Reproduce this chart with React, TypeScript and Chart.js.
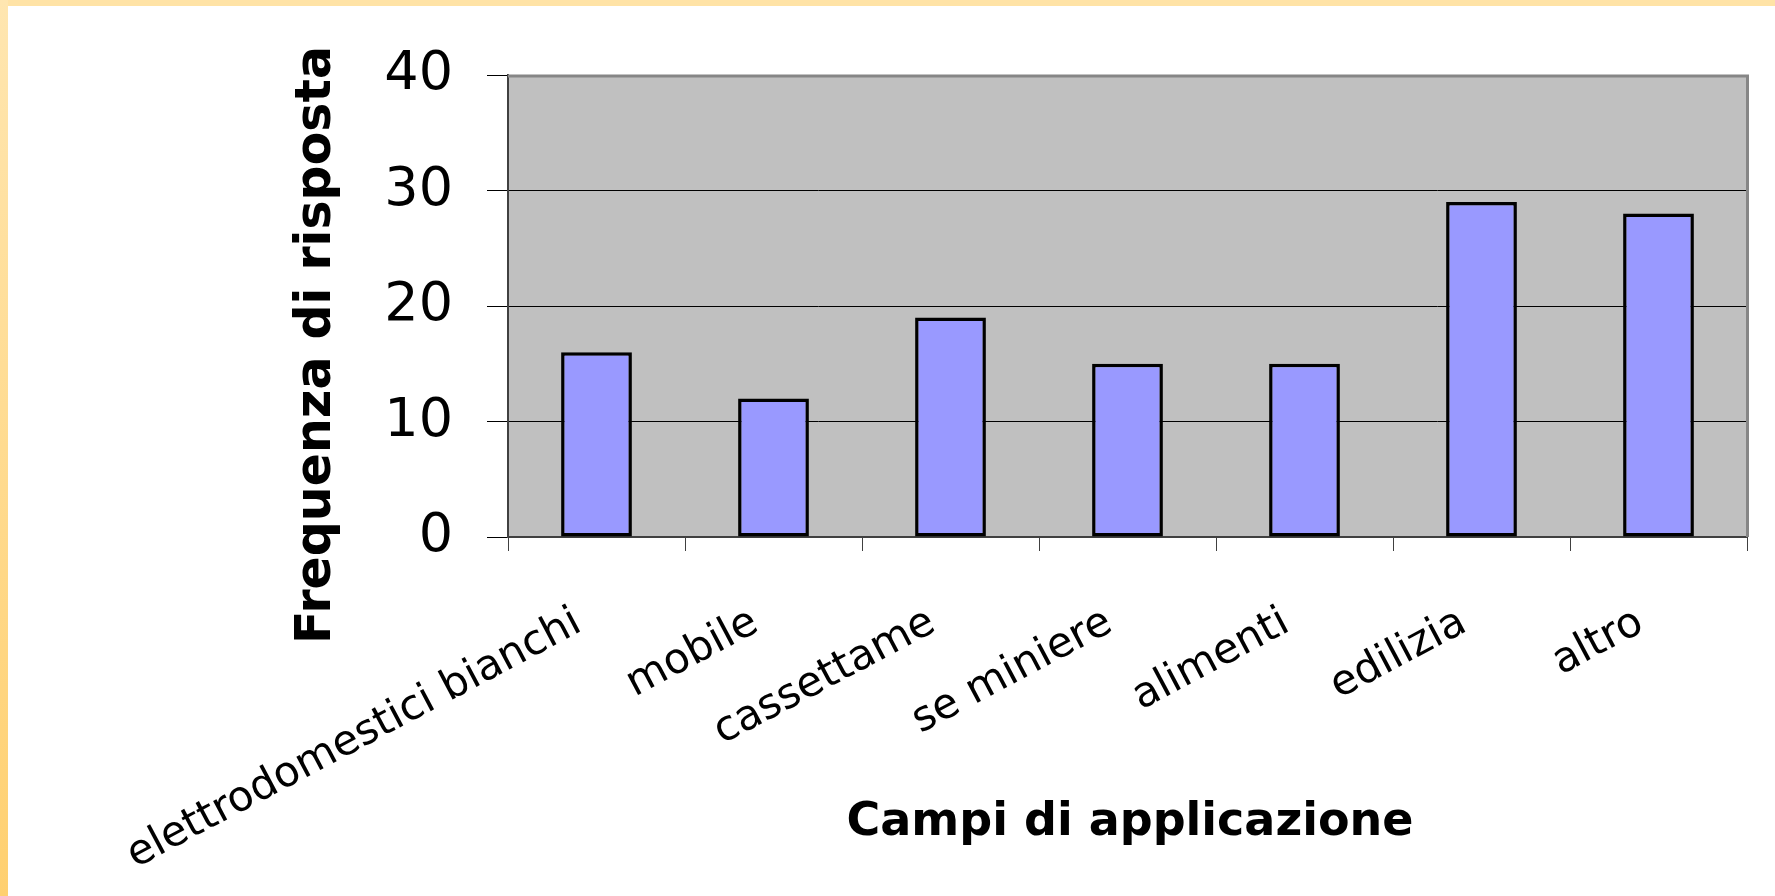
import React, { useEffect, useRef } from "react";
import { Chart, registerables } from "chart.js";

Chart.register(...registerables);

const categories = [
  "elettrodomestici bianchi",
  "mobile",
  "cassettame",
  "se miniere",
  "alimenti",
  "edilizia",
  "altro",
];
const frequencies = [16, 12, 19, 15, 15, 29, 28];
const yMin = 0;
const yMax = 40;
const yStep = 10;
const xTitle = "Campi di applicazione";
const yTitle = "Frequenza di risposta";

const FONT = '"Comic Sans MS", "DejaVu Sans", sans-serif';

export default function App() {
  const ref = useRef<HTMLCanvasElement>(null);

  useEffect(() => {
    const canvas = ref.current;
    if (!canvas) return;

    const plotDecor = {
      id: "plotDecor",
      beforeDraw(chart: any) {
        const { ctx, chartArea: a } = chart;
        ctx.save();
        ctx.fillStyle = "#C0C0C0";
        ctx.fillRect(a.left, a.top, a.right - a.left, a.bottom - a.top);
        ctx.restore();
      },
      afterDatasetsDraw(chart: any) {
        const { ctx, chartArea: a } = chart;
        ctx.save();
        ctx.strokeStyle = "#868686";
        ctx.lineWidth = 3;
        ctx.beginPath();
        ctx.moveTo(a.left, a.top + 1);
        ctx.lineTo(a.right + 0.5, a.top + 1);
        ctx.lineTo(a.right + 0.5, a.bottom);
        ctx.stroke();
        ctx.restore();
      },
      afterDraw(chart: any) {
        const { ctx } = chart;
        ctx.save();
        ctx.fillStyle = "#000";
        ctx.textAlign = "center";
        ctx.textBaseline = "middle";
        ctx.font = `bold 46px ${FONT}`;
        ctx.fillText(xTitle, 1130, 823);
        ctx.translate(317, 345);
        ctx.rotate(-Math.PI / 2);
        ctx.font = `bold 49px ${FONT}`;
        ctx.fillText(yTitle, 0, 0);
        ctx.restore();
      },
    };

    const chart = new Chart(canvas, {
      type: "bar",
      data: {
        labels: categories,
        datasets: [
          {
            data: frequencies,
            backgroundColor: "#9999FF",
            borderColor: "#000000",
            borderWidth: 3.5,
            borderSkipped: false,
            barPercentage: 0.4,
            categoryPercentage: 1.0,
          },
        ],
      },
      options: {
        responsive: false,
        animation: false,
        devicePixelRatio: 1,
        layout: { padding: { left: 0, top: 75, right: 28, bottom: 0 } },
        plugins: {
          legend: { display: false },
          tooltip: { enabled: false },
          title: { display: false },
        },
        scales: {
          x: {
            offset: true,
            afterFit(s: any) {
              s.height = 359;
              s.paddingLeft = 0;
              s.paddingRight = 0;
            },
            grid: {
              offset: true,
              drawOnChartArea: false,
              drawTicks: true,
              tickLength: 14,
              tickColor: "#404040",
              tickWidth: 1,
            },
            border: { display: true, color: "#404040", width: 2 },
            ticks: {
              autoSkip: false,
              minRotation: 28,
              maxRotation: 28,
              padding: 47,
              labelOffset: -18,
              color: "#000",
              font: { family: FONT, size: 42 },
            },
          },
          y: {
            min: yMin,
            max: yMax,
            afterFit(s: any) {
              s.width = 508;
              s.paddingTop = 0;
              s.paddingBottom = 0;
            },
            grid: {
              color: (ctx: any) =>
                ctx.tick && ctx.tick.value === yMax ? "rgba(0,0,0,0)" : "#000",
              lineWidth: 1,
              drawTicks: true,
              tickLength: 21,
              tickColor: "#000",
              tickWidth: 1,
            },
            border: { display: true, color: "#404040", width: 2 },
            ticks: {
              stepSize: yStep,
              padding: 34,
              color: "#000",
              font: { family: FONT, size: 54 },
            },
          },
        },
      },
      plugins: [plotDecor],
    });

    return () => chart.destroy();
  }, []);

  return (
    <div
      style={{
        position: "fixed",
        left: 0,
        top: 0,
        width: 1775,
        height: 896,
        background: "#FFFFFF",
        overflow: "hidden",
      }}
    >
      <div
        style={{
          position: "absolute",
          left: 0,
          top: 0,
          width: 1775,
          height: 6,
          background: "#FFE3A6",
        }}
      />
      <div
        style={{
          position: "absolute",
          left: 0,
          top: 0,
          width: 8,
          height: 896,
          background: "linear-gradient(to bottom, #FFE6B0, #FFD070)",
        }}
      />
      <canvas
        ref={ref}
        width={1775}
        height={896}
        style={{ position: "absolute", left: 0, top: 0, width: 1775, height: 896 }}
      />
    </div>
  );
}
